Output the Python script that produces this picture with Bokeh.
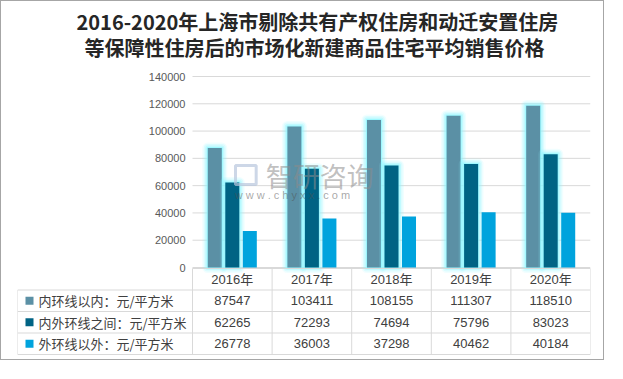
from bokeh.plotting import figure
from bokeh.models import (Range1d, Label, FixedTicker, ColumnDataSource,
                          NumeralTickFormatter, BoxAnnotation, LinearAxis)
from bokeh.embed import file_html
from bokeh.resources import INLINE
from bokeh.core.properties import value

# ---------------- data ----------------
years = ["2016年", "2017年", "2018年", "2019年", "2020年"]
series_names = ["内环线以内：元/平方米", "内外环线之间：元/平方米", "外环线以外：元/平方米"]
inner = [87547, 103411, 108155, 111307, 118510]
middle = [62265, 72293, 74694, 75796, 83023]
outer = [26778, 36003, 37298, 40462, 40184]
y_ticks = [0, 20000, 40000, 60000, 80000, 100000, 120000, 140000]
title_line1 = "2016-2020年上海市剔除共有产权住房和动迁安置住房"
title_line2 = "等保障性住房后的市场化新建商品住宅平均销售价格"

colors = ["#5B90A5", "#006384", "#00A3DD"]
series = [inner, middle, outer]
offsets = [-0.22, 0.0, 0.22]
bar_w = 0.176

CJK = "'Noto Sans CJK SC'"
NUM = "'Liberation Sans', 'Noto Sans CJK SC'"

# ---------------- geometry (canvas pixels, from top-left) ----------------
W, H = 604, 360
MIN_L, MIN_R = 16, 15
frame_w = W - MIN_L - MIN_R
label_px = 175
cat_px = (frame_w - label_px) / len(years)
label_col = label_px / cat_px
top_px, zero_px = 75, 266          # where the max tick and the zero line sit
table_top_px, row_px = 267, 21.5
title_px = [20, 46]
title_left_px = [59, 67]           # left edges of the two title lines (from frame left)

ymax = y_ticks[-1]
per_px = ymax / (zero_px - top_px)
y_end = ymax + top_px * per_px
y_start = -(H - zero_px) * per_px

n = len(years)
nrows = len(series) + 1
table_bottom_px = table_top_px + nrows * row_px
t_start = -(H - table_bottom_px) / row_px
t_end = table_bottom_px / row_px
xc = [i + 0.5 for i in range(n)]

p = figure(width=W, height=H, x_range=Range1d(-label_col, n),
           y_range=Range1d(y_start, y_end), x_axis_location=None,
           y_axis_location=None, toolbar_location=None, output_backend="svg",
           title=None, min_border_left=MIN_L, min_border_right=MIN_R,
           min_border_top=0, min_border_bottom=0)
p.outline_line_color = None
p.background_fill_color = "white"
p.border_fill_color = "white"
p.grid.visible = False
p.extra_y_ranges = {"table": Range1d(t_start, t_end)}
p.styles = {"border": "1px solid #A6A6A6", "margin-bottom": "-24px"}

# y axis (labels pulled inward next to the chart zone)
yax = LinearAxis(ticker=FixedTicker(ticks=y_ticks),
                 formatter=NumeralTickFormatter(format="0"))
yax.axis_line_color = None
yax.major_tick_line_color = None
yax.minor_tick_line_color = None
yax.major_label_standoff = -int(label_px - 1)
yax.major_label_text_font_size = "11px"
yax.major_label_text_font = "Liberation Sans"
yax.major_label_text_color = "#595959"
p.add_layout(yax, "left")

# title (two lines)
for txt, tp, tl in zip([title_line1, title_line2], title_px, title_left_px):
    p.add_layout(Label(x=-label_col + tl / cat_px, y=ymax + (top_px - tp) * per_px,
                       text=txt, text_align="left", text_baseline="middle",
                       text_font_size="20px", text_font=CJK,
                       text_font_style="bold", text_color="#262626"))

# gridlines over the chart zone only
p.segment(x0=[0] * len(y_ticks), x1=[n] * len(y_ticks), y0=y_ticks, y1=y_ticks,
          line_color="#D9D9D9", line_width=1)

# watermark
p.add_layout(BoxAnnotation(left=0.54, right=0.80, bottom=60800, top=74800,
                           fill_alpha=0, line_color="#B8C6DD", line_width=3,
                           line_alpha=0.7))
p.add_layout(Label(x=0.92, y=67400, text="智研咨询", text_font_size="27px",
                   text_font=CJK, text_color="#8C8C8C", text_alpha=0.55,
                   text_baseline="middle"))
p.add_layout(Label(x=0.53, y=52800, text="w w w . c h y x x . c o m",
                   text_font_size="11px", text_font="Liberation Sans",
                   text_color="#505050", text_alpha=0.5, text_baseline="middle"))

# bars with glow
for i, (vals, c, off) in enumerate(zip(series, colors, offsets)):
    src = ColumnDataSource(dict(x=[v + off for v in xc], top=vals))
    if i < 2:
        for lw, la in [(11, 0.12), (8, 0.2), (5, 0.35), (2, 0.7)]:
            p.vbar(x="x", top="top", bottom=0, width=bar_w, source=src,
                   fill_color=None, line_color="#8EF6FF", line_width=lw,
                   line_alpha=la, line_join="round")
    p.vbar(x="x", top="top", bottom=0, width=bar_w, source=src,
           fill_color=c, line_color=None)

# ---------------- table ----------------
gc = "#D9D9D9"
hx0 = [0] + [-label_col] * nrows
hy = [nrows] + list(range(nrows - 1, -1, -1))
p.segment(x0=hx0, y0=hy, x1=[n] * len(hy), y1=hy, line_color=gc, line_width=1,
          y_range_name="table")
vx = list(range(n + 1)) + [-label_col]
vtop = [nrows] * (n + 1) + [nrows - 1]
p.segment(x0=vx, y0=[0] * len(vx), x1=vx, y1=vtop, line_color=gc, line_width=1,
          y_range_name="table")

p.text(x=xc, y=[nrows - 0.5] * n, text=years, text_align="center",
       text_baseline="middle", text_font_size="13px", text_font=value(NUM),
       text_color="#404040", y_range_name="table")
for r, vals in enumerate(series):
    yy = nrows - 1.5 - r
    p.text(x=xc, y=[yy] * n, text=[str(v) for v in vals], text_align="center",
           text_baseline="middle", text_font_size="13px", text_font=value(NUM),
           text_color="#404040", y_range_name="table")
ys = [nrows - 1.5 - r for r in range(len(series))]
p.rect(x=[-label_col + 12 / cat_px] * len(series), y=ys, width=8, height=8,
       width_units="screen", height_units="screen", fill_color=colors,
       line_color=None, y_range_name="table")
p.text(x=[-label_col + 21 / cat_px] * len(series), y=ys, text=series_names,
       text_align="left", text_baseline="middle", text_font_size="13px",
       text_font=value(CJK), text_color="#404040", y_range_name="table")

open("out.html", "w").write(file_html(p, INLINE))
